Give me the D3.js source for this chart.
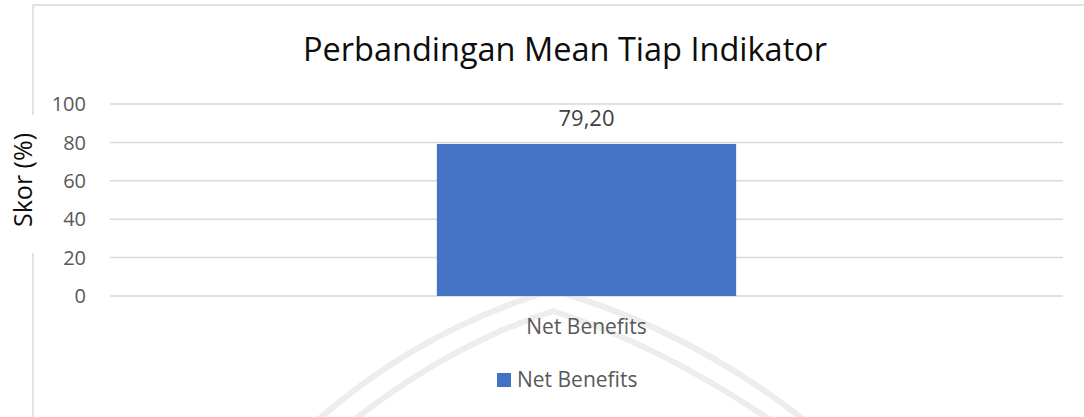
<!DOCTYPE html>
<html>
<head>
<meta charset="utf-8">
<script src="https://cdn.jsdelivr.net/npm/d3@7"></script>
<style>
  body { margin: 0; background: #fff; }
  text { font-family: "Open Sans", sans-serif; }
</style>
</head>
<body>
<div id="chart"></div>
<script>
// data
var categories = ["Net Benefits"];
var seriesName = "Net Benefits";
var values = [79.20];
var yTicks = [0, 20, 40, 60, 80, 100];

var width = 1084,
    height = 417,
    blue = "#4472c4",
    grid = "#d9d9d9";

var svg = d3.select("#chart").append("svg")
    .attr("width", width)
    .attr("height", height);

// faint watermark behind everything
var wm = svg.append("g").attr("fill", "none").attr("stroke", "#ededed").attr("stroke-width", 6);
wm.append("path").attr("d", "M318,420 Q420,330 553,290 Q690,330 804,420");
wm.append("path").attr("d", "M354,420 Q450,345 553,311 Q660,345 770,420");

// chart border (top + left, right side is clipped)
svg.append("path")
    .attr("d", "M33,420 L33,5 L1086,5")
    .attr("fill", "none")
    .attr("stroke", grid)
    .attr("stroke-width", 1.5);

var x = d3.scaleBand()
    .domain(categories)
    .range([110, 1063])
    .padding(0.522);

var y = d3.scaleLinear()
    .domain([0, 100])
    .range([296, 104]);

// gridlines
svg.append("g")
  .selectAll("line").data(yTicks).enter().append("line")
    .attr("x1", 110).attr("x2", 1063)
    .attr("y1", function(d) { return y(d); })
    .attr("y2", function(d) { return y(d); })
    .style("stroke", grid)
    .style("stroke-width", 1.5);

// y tick labels
svg.append("g")
  .selectAll("text").data(yTicks).enter().append("text")
    .attr("x", 86)
    .attr("y", function(d) { return y(d); })
    .attr("dy", "0.36em")
    .attr("text-anchor", "end")
    .style("fill", "#595959")
    .style("font-size", "20px")
    .text(function(d) { return d; });

// bars
svg.append("g")
  .selectAll("rect").data(values).enter().append("rect")
    .attr("x", function(d, i) { return x(categories[i]); })
    .attr("y", function(d) { return y(d); })
    .attr("width", x.bandwidth())
    .attr("height", function(d) { return y(0) - y(d); })
    .style("fill", blue);

// value labels
svg.append("g")
  .selectAll("text").data(values).enter().append("text")
    .attr("x", function(d, i) { return x(categories[i]) + x.bandwidth() / 2; })
    .attr("y", function(d) { return y(d) - 18; })
    .attr("text-anchor", "middle")
    .style("fill", "#404040")
    .style("font-size", "22px")
    .text(function(d) { return d.toFixed(2).replace(".", ","); });

// category labels
svg.append("g")
  .selectAll("text").data(categories).enter().append("text")
    .attr("x", function(d) { return x(d) + x.bandwidth() / 2; })
    .attr("y", 334)
    .attr("text-anchor", "middle")
    .style("fill", "#595959")
    .style("font-size", "21px")
    .text(function(d) { return d; });

// title
svg.append("text")
    .attr("x", 565)
    .attr("y", 61)
    .attr("text-anchor", "middle")
    .style("fill", "#0d0d0d")
    .style("font-size", "32.5px")
    .text("Perbandingan Mean Tiap Indikator");

// y axis title, white box covers the border
svg.append("rect")
    .attr("x", 10).attr("y", 115)
    .attr("width", 30).attr("height", 138)
    .style("fill", "#fff");
svg.append("text")
    .attr("transform", "translate(32,180) rotate(-90)")
    .attr("text-anchor", "middle")
    .style("fill", "#0d0d0d")
    .style("font-size", "25px")
    .text("Skor (%)");

// legend
var legend = svg.append("g").attr("transform", "translate(497,373)");
legend.append("rect")
    .attr("width", 14).attr("height", 14)
    .style("fill", blue);
legend.append("text")
    .attr("x", 20).attr("y", 14)
    .style("fill", "#595959")
    .style("font-size", "21px")
    .text(seriesName);
</script>
</body>
</html>
